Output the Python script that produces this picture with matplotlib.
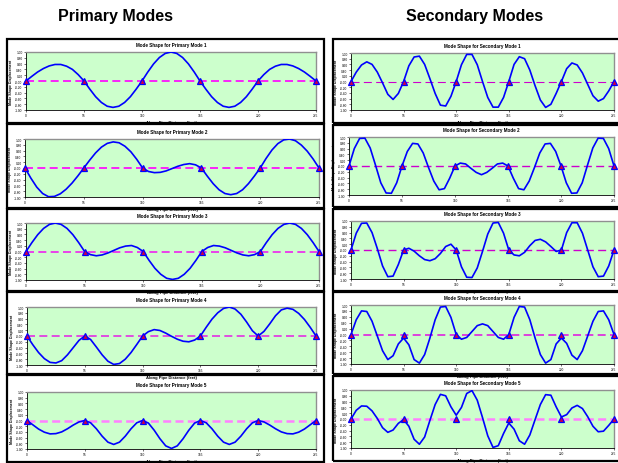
import numpy as np
import matplotlib.pyplot as plt
from matplotlib.patches import Rectangle

plt.rcParams['font.family'] = ['Liberation Sans', 'DejaVu Sans']

# pipe stations every 5.5 ft, supports every 55 ft
distance = np.linspace(0, 275, 51)
supports = [0, 55, 110, 165, 220, 275]
x_ticks = [0, 55, 110, 165, 220, 275]
y_ticks = np.round(np.arange(-1.0, 1.01, 0.2), 2)

primary_mode_1 = [
    0, .16, .31, .43, .52, .57, .57, .51, .40, .22,
    0, -.28, -.54, -.74, -.87, -.91, -.87, -.74, -.54, -.28,
    0, .31, .59, .81, .95, 1.0, .95, .81, .59, .31,
    0, -.28, -.54, -.74, -.87, -.91, -.87, -.74, -.54, -.28,
    0, .22, .40, .51, .57, .57, .52, .43, .31, .16, 0]
primary_mode_2 = [
    0, -.35, -.66, -.88, -.99, -.98, -.89, -.73, -.52, -.27,
    0, .27, .52, .72, .85, .90, .87, .75, .56, .30,
    0, -.12, -.16, -.15, -.10, -.02, .06, .12, .15, .11,
    0, -.28, -.54, -.75, -.88, -.92, -.88, -.75, -.54, -.28,
    0, .33, .62, .84, .97, 1.0, .94, .79, .58, .31, 0]
primary_mode_3 = [
    0, .31, .59, .81, .95, 1.0, .95, .81, .59, .31,
    0, -.11, -.15, -.12, -.05, .04, .13, .19, .21, .14,
    0, -.31, -.59, -.80, -.94, -.98, -.94, -.80, -.59, -.31,
    0, .14, .21, .19, .13, .04, -.05, -.12, -.15, -.11,
    0, .31, .59, .81, .95, 1.0, .95, .81, .59, .31, 0]
primary_mode_4 = [
    0, -.30, -.57, -.78, -.91, -.93, -.85, -.65, -.40, -.15,
    0, -.12, -.38, -.65, -.87, -.98, -.95, -.80, -.57, -.29,
    0, .15, .22, .19, .10, -.01, -.11, -.18, -.20, -.14,
    0, .30, .58, .80, .95, 1.0, .93, .75, .48, .18,
    0, .16, .42, .70, .90, .96, .92, .78, .57, .30, 0]
primary_mode_5 = [
    0, -.15, -.30, -.41, -.47, -.46, -.40, -.29, -.16, -.05,
    0, -.08, -.29, -.55, -.76, -.84, -.76, -.55, -.29, -.08,
    0, -.09, -.34, -.64, -.89, -.98, -.89, -.64, -.34, -.09,
    0, -.08, -.29, -.55, -.76, -.84, -.76, -.55, -.29, -.08,
    0, -.05, -.16, -.29, -.40, -.46, -.47, -.41, -.30, -.15, 0]

secondary_mode_1 = [
    0, .33, .58, .69, .60, .33, -.05, -.45, -.63, -.42,
    0, .55, .86, .89, .60, .10, -.42, -.83, -.86, -.52,
    0, .59, .95, .95, .59, 0, -.56, -.90, -.90, -.56,
    0, .60, .87, .80, .40, -.15, -.65, -.91, -.80, -.42,
    0, .45, .65, .58, .30, -.10, -.50, -.69, -.60, -.33, 0]
secondary_mode_2 = [
    0, .60, .95, .96, .62, .03, -.58, -.93, -.94, -.58,
    0, .50, .78, .76, .45, -.05, -.52, -.82, -.78, -.42,
    0, .10, .07, -.08, -.22, -.30, -.22, -.08, .07, .10,
    0, -.42, -.78, -.82, -.52, -.05, .45, .76, .78, .50,
    0, -.58, -.94, -.93, -.58, .03, .62, .96, .95, .60, 0]
secondary_mode_3 = [
    0, .58, .92, .93, .60, .05, -.55, -.92, -.90, -.50,
    0, .06, -.04, -.20, -.33, -.37, -.30, -.12, .12, .20,
    0, -.58, -.94, -.95, -.62, -.05, .55, .93, .95, .58,
    0, -.17, -.20, -.08, .15, .33, .37, .28, .12, -.05,
    0, .60, .94, .94, .58, 0, -.58, -.92, -.90, -.55, 0]
secondary_mode_4 = [
    0, .50, .80, .78, .45, -.05, -.55, -.85, -.72, -.32,
    -.12, -.35, -.85, -.97, -.68, -.12, .50, .93, .95, .58,
    0, -.16, -.10, .10, .30, .36, .30, .10, -.10, -.16,
    0, .58, .95, .93, .50, -.12, -.68, -.97, -.85, -.32,
    -.12, -.30, -.70, -.85, -.55, -.05, .45, .78, .80, .50, 0]
secondary_mode_5 = [
    0, .30, .45, .44, .28, .02, -.30, -.46, -.38, -.15,
    -.02, -.25, -.70, -.87, -.62, -.05, .50, .85, .80, .42,
    .13, .40, .88, .98, .65, .05, -.58, -.98, -.92, -.50,
    -.14, -.35, -.75, -.87, -.55, -.02, .50, .84, .82, .42,
    .07, .15, .38, .47, .36, .08, -.25, -.44, -.42, -.22, 0]

primary_modes = [primary_mode_1, primary_mode_2, primary_mode_3,
                 primary_mode_4, primary_mode_5]
secondary_modes = [secondary_mode_1, secondary_mode_2, secondary_mode_3,
                   secondary_mode_4, secondary_mode_5]

W, H = 618, 464
fig = plt.figure(figsize=(W / 100, H / 100), dpi=100)


def fig_box(l, t, r, b):
    return [l / W, 1 - b / H, (r - l) / W, (b - t) / H]


def chart_frame(l, t, r, b):
    x0, y0, w, h = fig_box(l, t, r, b)
    fig.add_artist(Rectangle((x0, y0), w, h, transform=fig.transFigure,
                             fill=False, ec='black', lw=1.6, zorder=0))


def mode_panel(box, shape, title, dash_color, dash_lw):
    ax = fig.add_axes(fig_box(*box))
    ax.set_facecolor('#CCFFCC')
    ax.axhline(0, color=dash_color, lw=dash_lw,
               ls=(0, (4.8 / dash_lw * 1.2, 2.6 / dash_lw * 1.2)), zorder=2)
    ax.plot(distance, shape, color='#0000FF', lw=1.2, zorder=3)
    ax.plot(supports, np.zeros(len(supports)), ls='none', marker='^', ms=4.5,
            mfc='#D00040', mec='#0000FF', mew=0.9, zorder=4, clip_on=False)
    ax.set_xlim(0, 275)
    ax.set_ylim(-1, 1)
    ax.set_xticks(x_ticks)
    ax.set_yticks(y_ticks)
    ax.set_yticklabels([f'{v:.2f}' for v in y_ticks])
    ax.tick_params(labelsize=2.3, length=1.5, width=0.4, pad=1)
    for side in ('top', 'right'):
        ax.spines[side].set_color('#909090')
        ax.spines[side].set_linewidth(1.0)
    for side in ('left', 'bottom'):
        ax.spines[side].set_color('black')
        ax.spines[side].set_linewidth(0.6)
    ax.set_title(title, fontsize=3.3, fontweight='bold', pad=4.5)
    ax.set_xlabel('Along Pipe Distance (feet)', fontsize=3.0, fontweight='bold', labelpad=1.5)
    ax.set_ylabel('Mode Shape Displacement', fontsize=2.5, fontweight='bold', labelpad=1.5)
    return ax


left_frames = [(7, 40, 324, 124), (7, 125, 324, 209), (7, 210, 324, 292),
               (7, 293, 324, 375), (7, 376, 324, 463)]
left_axes = [(26, 53, 316, 111), (25, 140, 319, 198), (26, 224, 319, 281),
             (27, 308, 316, 366), (27, 393, 316, 450)]
right_frames = [(333, 40, 640, 124), (333, 126, 640, 208), (333, 210, 640, 292),
                (333, 293, 640, 375), (333, 377, 640, 462)]
right_axes = [(351, 54, 614, 111), (349, 138, 614, 196), (351, 222, 614, 280),
              (351, 306, 614, 365), (351, 391, 614, 449)]

left_dash = [('#FF00FF', 1.2), ('#FF00FF', 1.2), ('#EE22EE', 1.2),
             ('#E040E0', 1.3), ('#FF80FF', 1.8)]
right_dash = [('#CC00CC', 0.8), ('#CC00CC', 1.0), ('#CC00CC', 1.0),
              ('#DD33DD', 1.3), ('#FF80FF', 1.8)]

for i in range(5):
    chart_frame(*left_frames[i])
    mode_panel(left_axes[i], primary_modes[i], f'Mode Shape for Primary Mode {i + 1}',
               *left_dash[i])
    chart_frame(*right_frames[i])
    mode_panel(right_axes[i], secondary_modes[i], f'Mode Shape for Secondary Mode {i + 1}',
               *right_dash[i])

fig.text(116 / W, 1 - 17 / H, 'Primary Modes', ha='center', va='center',
         fontsize=11.5, fontweight='bold')
fig.text(475 / W, 1 - 17 / H, 'Secondary Modes', ha='center', va='center',
         fontsize=11.5, fontweight='bold')

fig.savefig('out.png', dpi=100)
